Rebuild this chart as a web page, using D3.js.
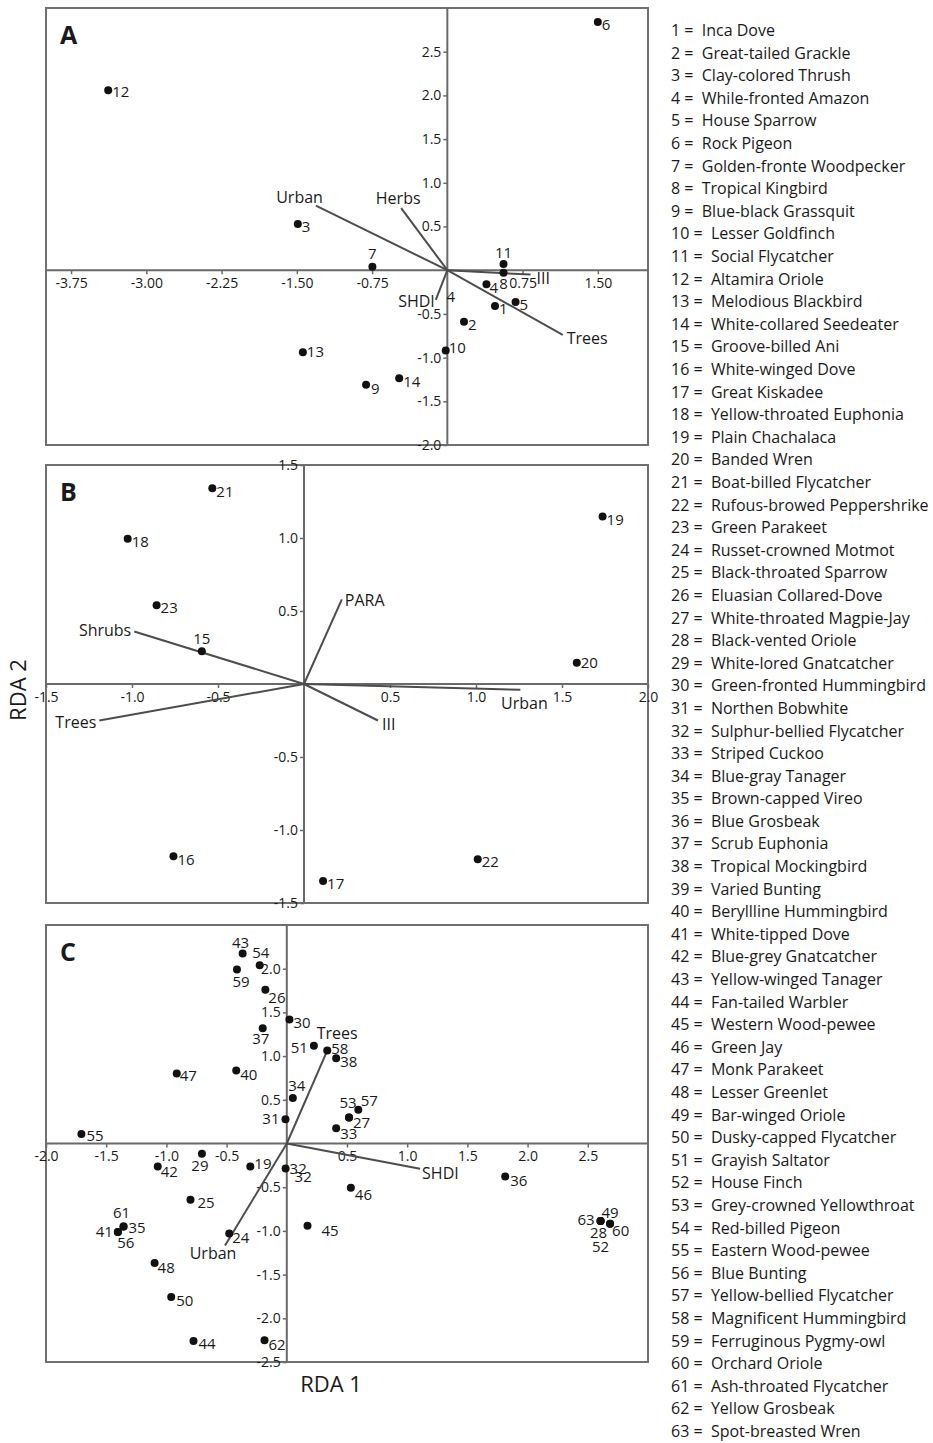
<!DOCTYPE html>
<html><head><meta charset="utf-8">
<script src="https://cdn.jsdelivr.net/npm/d3@7"></script>
<style>
body{margin:0;background:#fff}
svg{display:block}
text{font-family:"Open Sans",sans-serif;fill:#1a1a1a}
</style>
</head><body>
<svg id="chart" width="933" height="1443"></svg>
<script>
// ---------------- DATA ----------------
// Panel A (species scores)
const idsA  = [1,2,3,4,5,6,7,8,9,10,11,12,13,14];
const rda1A = [0.475,0.166,-1.49,0.39,0.68,1.50,-0.747,0.56,-0.81,-0.016,0.56,-3.38,-1.44,-0.48];
const rda2A = [-0.41,-0.59,0.53,-0.16,-0.365,2.84,0.04,-0.03,-1.31,-0.92,0.07,2.06,-0.94,-1.235];
// Panel A environmental vectors
const varsA = ["Urban","Herbs","SHDI","Trees","III"];
const vx_A  = [-1.31,-0.46,-0.115,1.15,0.83];
const vy_A  = [0.74,0.71,-0.34,-0.74,-0.05];
// stray annotation printed in panel A
const extraA = [{text:"4", x:0.034, y:-0.36}];

// Panel B
const idsB  = [15,16,17,18,19,20,21,22,23];
const rda1B = [-0.594,-0.759,0.111,-1.025,1.736,1.586,-0.533,1.01,-0.857];
const rda2B = [0.225,-1.18,-1.35,0.995,1.147,0.145,1.34,-1.20,0.54];
const varsB = ["Shrubs","PARA","Trees","Urban","III"];
const vx_B  = [-0.987,0.22,-1.19,1.258,0.43];
const vy_B  = [0.36,0.58,-0.25,-0.04,-0.25];

// Panel C
const idsC  = [19,24,25,26,27,28,29,30,31,32,33,34,35,36,37,38,40,41,42,43,44,45,46,47,48,49,50,51,52,53,54,55,56,57,58,59,60,61,62,63];
const rda1C = [-0.303,-0.478,-0.80,-0.178,0.517,2.606,-0.705,0.022,-0.011,-0.01,0.41,0.05,-1.356,1.814,-0.2,0.41,-0.42,-1.403,-1.072,-0.367,-0.775,0.172,0.532,-0.914,-1.098,2.685,-0.96,0.225,2.606,0.517,-0.225,-1.706,-1.403,0.594,0.336,-0.414,2.685,-1.356,-0.185,2.606];
const rda2C = [-0.263,-1.03,-0.643,1.76,0.297,-0.888,-0.118,1.42,0.278,-0.286,0.175,0.52,-0.949,-0.377,1.32,0.975,0.834,-1.014,-0.263,2.175,-2.26,-0.94,-0.506,0.80,-1.368,-0.918,-1.757,1.117,-0.888,0.297,2.04,0.11,-1.014,0.385,1.063,1.99,-0.918,-0.949,-2.25,-0.888];
const varsC = ["Trees","SHDI","Urban"];
const vx_C  = [0.336,1.107,-0.513];
const vy_C  = [1.063,-0.29,-1.166];

// Tick values
const xTicksA = [-3.75,-3.00,-2.25,-1.50,-0.75,0.75,1.50];
const yTicksA = [-2.0,-1.5,-1.0,-0.5,0.5,1.0,1.5,2.0,2.5];
const xTicksB = [-1.5,-1.0,-0.5,0.5,1.0,1.5,2.0];
const yTicksB = [-1.5,-1.0,-0.5,0.5,1.0,1.5];
const xTicksC = [-2.0,-1.5,-1.0,-0.5,0.5,1.0,1.5,2.0,2.5];
const yTicksC = [-2.5,-2.0,-1.5,-1.0,-0.5,0.5,1.0,1.5,2.0];

// Species legend
const speciesNames = ["Inca Dove","Great-tailed Grackle","Clay-colored Thrush","While-fronted Amazon","House Sparrow","Rock Pigeon","Golden-fronte Woodpecker","Tropical Kingbird","Blue-black Grassquit","Lesser Goldfinch","Social Flycatcher","Altamira Oriole","Melodious Blackbird","White-collared Seedeater","Groove-billed Ani","White-winged Dove","Great Kiskadee","Yellow-throated Euphonia","Plain Chachalaca","Banded Wren","Boat-billed Flycatcher","Rufous-browed Peppershrike","Green Parakeet","Russet-crowned Motmot","Black-throated Sparrow","Eluasian Collared-Dove","White-throated Magpie-Jay","Black-vented Oriole","White-lored Gnatcatcher","Green-fronted Hummingbird","Northen Bobwhite","Sulphur-bellied Flycatcher","Striped Cuckoo","Blue-gray Tanager","Brown-capped Vireo","Blue Grosbeak","Scrub Euphonia","Tropical Mockingbird","Varied Bunting","Beryllline Hummingbird","White-tipped Dove","Blue-grey Gnatcatcher","Yellow-winged Tanager","Fan-tailed Warbler","Western Wood-pewee","Green Jay","Monk Parakeet","Lesser Greenlet","Bar-winged Oriole","Dusky-capped Flycatcher","Grayish Saltator","House Finch","Grey-crowned Yellowthroat","Red-billed Pigeon","Eastern Wood-pewee","Blue Bunting","Yellow-bellied Flycatcher","Magnificent Hummingbird","Ferruginous Pygmy-owl","Orchard Oriole","Ash-throated Flycatcher","Yellow Grosbeak","Spot-breasted Wren"];

// ---------------- LAYOUT (label offsets in px: [dx, dy, anchor]) ----------------
const placeA = {1:[4,8],2:[4,8],3:[4,8],4:[3,9],5:[4,8],6:[4,8],7:[0,-8,'middle'],8:[0,16,'middle'],9:[5,9],10:[3,2],11:[0,-6,'middle'],12:[4,7],13:[4,5],14:[4,9]};
const placeB = {15:[0,-7,'middle'],16:[4,9],17:[4,8],18:[4,8],19:[4,8],20:[4,5],21:[4,9],22:[4,8],23:[4,8]};
const placeC = {19:[4,3],24:[3,9],25:[7,8],26:[3,13],27:[4,10],28:[-2,17,'middle'],29:[-2,17,'middle'],30:[4,9],31:[-6,5,'end'],32:[[4,6],[9,14]],33:[4,11],34:[4,-7,'middle'],35:[5,7],36:[5,10],37:[-2,16,'middle'],38:[4,9],40:[4,9],41:[-5,5,'end'],42:[3,11],43:[-2,-5,'middle'],44:[5,8],45:[14,10],46:[4,12],47:[3,7],48:[3,10],49:[0,-6,'middle'],50:[5,9],51:[-6,7,'end'],52:[0,31,'middle'],53:[-1,-10,'middle'],54:[1,-7,'middle'],55:[5,7],56:[8,16,'middle'],57:[11,-4,'middle'],58:[4,3],59:[4,17,'middle'],60:[2,12],61:[-2,-8,'middle'],62:[4,10],63:[-6,4,'end']};
const vecPlaceA = {Urban:[7,-3,'end'],Herbs:[-3,-4,'middle'],SHDI:[-1,7,'end'],Trees:[4,9,'start'],III:[6,9,'start']};
const vecPlaceB = {Shrubs:[-3,5,'end'],PARA:[3,7,'start'],Trees:[-3,7,'end'],Urban:[4,19,'middle'],III:[4,9,'start']};
const vecPlaceC = {Trees:[10,-12,'middle'],SHDI:[2,10,'start'],Urban:[-12,14,'middle']};

const loc = d3.formatLocale({decimal:".", thousands:",", grouping:[3], currency:["",""], minus:"-"});

const panels = [
  {key:"A", top:8,   bottom:445, xDom:[-4,2],   yDom:[-2,3],     ids:idsA, xs:rda1A, ys:rda2A, vars:varsA, vx:vx_A, vy:vy_A, xT:xTicksA, yT:yTicksA, xf:loc.format(".2f"), place:placeA, vplace:vecPlaceA, extra:extraA},
  {key:"B", top:465, bottom:903, xDom:[-1.5,2], yDom:[-1.5,1.5], ids:idsB, xs:rda1B, ys:rda2B, vars:varsB, vx:vx_B, vy:vy_B, xT:xTicksB, yT:yTicksB, xf:loc.format(".1f"), place:placeB, vplace:vecPlaceB, extra:[]},
  {key:"C", top:925, bottom:1362,xDom:[-2,3],   yDom:[-2.5,2.5], ids:idsC, xs:rda1C, ys:rda2C, vars:varsC, vx:vx_C, vy:vy_C, xT:xTicksC, yT:yTicksC, xf:loc.format(".1f"), place:placeC, vplace:vecPlaceC, extra:[]}
];
const LEFT = 46, RIGHT = 648;
const frameColor = "#707070", axisColor = "#6a6a6a", vecColor = "#4d4d4d";

const svg = d3.select("#chart");

panels.forEach(p => {
  const sx = d3.scaleLinear().domain(p.xDom).range([LEFT, RIGHT]);
  const sy = d3.scaleLinear().domain(p.yDom).range([p.bottom, p.top]);
  const g = svg.append("g");

  g.append("rect").attr("x",LEFT).attr("y",p.top).attr("width",RIGHT-LEFT).attr("height",p.bottom-p.top)
    .attr("fill","none").attr("stroke",frameColor).attr("stroke-width",2);

  g.append("line").attr("x1",LEFT).attr("x2",RIGHT).attr("y1",sy(0)).attr("y2",sy(0))
    .attr("stroke",axisColor).attr("stroke-width",2);
  g.append("line").attr("x1",sx(0)).attr("x2",sx(0)).attr("y1",p.top).attr("y2",p.bottom)
    .attr("stroke",axisColor).attr("stroke-width",2);

  const xa = g.append("g").attr("transform",`translate(0,${sy(0)})`)
    .call(d3.axisBottom(sx).tickValues(p.xT).tickSize(4).tickPadding(4).tickFormat(p.xf));
  const ya = g.append("g").attr("transform",`translate(${sx(0)},0)`)
    .call(d3.axisLeft(sy).tickValues(p.yT).tickSize(4).tickPadding(2).tickFormat(loc.format(".1f")));
  [xa,ya].forEach(a => {
    a.select(".domain").remove();
    a.selectAll(".tick line").attr("stroke",axisColor).attr("stroke-width",1.5);
    a.selectAll(".tick text").attr("font-size",14).attr("font-family","Open Sans, sans-serif").attr("fill","#222");
  });

  const vec = p.vars.map((v,i)=>({name:v, x:p.vx[i], y:p.vy[i]}));
  g.selectAll("line.vec").data(vec).join("line").attr("class","vec")
    .attr("x1",sx(0)).attr("y1",sy(0)).attr("x2",d=>sx(d.x)).attr("y2",d=>sy(d.y))
    .attr("stroke",vecColor).attr("stroke-width",2);
  g.selectAll("text.vlab").data(vec).join("text").attr("class","vlab")
    .attr("x",d=>sx(d.x)+p.vplace[d.name][0]).attr("y",d=>sy(d.y)+p.vplace[d.name][1])
    .attr("text-anchor",d=>p.vplace[d.name][2]).attr("font-size",16).text(d=>d.name);

  const pts = p.ids.map((id,i)=>({id, x:p.xs[i], y:p.ys[i]}));
  g.selectAll("circle.pt").data(pts).join("circle").attr("class","pt")
    .attr("cx",d=>sx(d.x)).attr("cy",d=>sy(d.y)).attr("r",4).attr("fill","#111");
  const labs = [];
  pts.forEach(d => {
    let pl = p.place[d.id] || [4,8];
    const list = Array.isArray(pl[0]) ? pl : [pl];
    list.forEach(q => labs.push({id:d.id, x:d.x, y:d.y, dx:q[0], dy:q[1], a:q[2]||"start"}));
  });
  g.selectAll("text.plab").data(labs).join("text").attr("class","plab")
    .attr("x",d=>sx(d.x)+d.dx).attr("y",d=>sy(d.y)+d.dy).attr("text-anchor",d=>d.a)
    .attr("font-size",15).text(d=>d.id);
  g.selectAll("text.extra").data(p.extra).join("text").attr("class","extra")
    .attr("x",d=>sx(d.x)).attr("y",d=>sy(d.y)).attr("text-anchor","middle")
    .attr("font-size",15).text(d=>d.text);

  g.append("text").attr("x",60).attr("y",p.top+36).attr("font-size",25).attr("font-weight","bold")
    .attr("fill","#111").text(p.key);
});

svg.append("text").attr("transform","translate(26,690) rotate(-90)").attr("text-anchor","middle")
  .attr("font-size",22).text("RDA 2");
svg.append("text").attr("x",331).attr("y",1392).attr("text-anchor","middle")
  .attr("font-size",22).text("RDA 1");

const ly = d3.scaleLinear().domain([0, speciesNames.length-1]).range([36, 1437]);
svg.append("g").selectAll("text").data(speciesNames).join("text")
  .attr("x",671).attr("y",(d,i)=>ly(i)).attr("font-size",16).style("white-space","pre")
  .text((d,i)=>`${i+1} =  ${d}`);
</script>
</body></html>
